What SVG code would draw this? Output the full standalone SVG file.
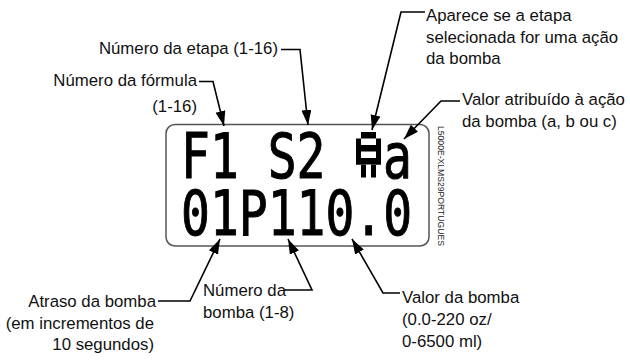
<svg xmlns="http://www.w3.org/2000/svg" width="630" height="360" viewBox="0 0 630 360">
  <defs>
    <marker id="arrow" markerUnits="userSpaceOnUse" markerWidth="16" markerHeight="11" refX="15" refY="5" orient="auto">
      <path d="M0,0 L15,5 L0,10 z" fill="#000"/>
    </marker>
    <style>
      .lbl { font-family: "Liberation Sans", Arial, sans-serif; font-size: 16.8px; fill: #111; }
      .end { text-anchor: end; }
      .lcd { font-family: "DejaVu Sans Mono", "Liberation Mono", monospace; font-weight: normal; font-size: 48px; fill: #000; stroke: #000; stroke-width: 0.8; }
      .conn { fill: none; stroke: #000; stroke-width: 1.6; marker-end: url(#arrow); }
      .id { font-family: "Liberation Sans", Arial, sans-serif; font-size: 8.6px; fill: #222; }
    </style>
  </defs>

  <g id="display">
    <rect x="166" y="124.5" width="263" height="121.5" rx="9" ry="9" fill="#fff" stroke="#555" stroke-width="1.5"/>
    <text class="lcd" transform="translate(181,178) scale(1,1.3)">F1 S2</text>
    <g id="pump-icon" fill="#000">
      <rect x="361" y="132" width="15" height="6.5"/>
      <rect x="356" y="138.5" width="5" height="26"/>
      <rect x="376" y="138.5" width="5" height="26"/>
      <rect x="356" y="145" width="25" height="6.5"/>
      <rect x="356" y="158" width="25" height="6.5"/>
      <rect x="361" y="164.5" width="5" height="13"/>
      <rect x="371" y="164.5" width="5" height="13"/>
    </g>
    <text class="lcd" transform="translate(383,178) scale(1,1.3)">a</text>
    <text class="lcd" transform="translate(181,235) scale(1,1.3)">01P110.0</text>
    <text class="id" transform="translate(438,126) rotate(90)" textLength="120" lengthAdjust="spacingAndGlyphs">L5000E-XLMS29PORTUGUES</text>
  </g>

  <g id="label-formula">
    <text class="lbl end" x="197" y="86">Número da fórmula</text>
    <text class="lbl end" x="197" y="112">(1-16)</text>
  </g>
  <g id="label-etapa">
    <text class="lbl end" x="278" y="54">Número da etapa (1-16)</text>
  </g>
  <g id="label-aparece">
    <text class="lbl" x="426" y="21">Aparece se a etapa</text>
    <text class="lbl" x="426" y="43">selecionada for uma ação</text>
    <text class="lbl" x="426" y="64">da bomba</text>
  </g>
  <g id="label-valor-atribuido">
    <text class="lbl" x="462" y="105">Valor atribuído à ação</text>
    <text class="lbl" x="462" y="127">da bomba (a, b ou c)</text>
  </g>
  <g id="label-atraso">
    <text class="lbl end" x="156" y="307">Atraso da bomba</text>
    <text class="lbl end" x="154" y="328.5">(em incrementos de</text>
    <text class="lbl end" x="154" y="350">10 segundos)</text>
  </g>
  <g id="label-numero-bomba">
    <text class="lbl" x="203" y="296">Número da</text>
    <text class="lbl" x="203" y="318">bomba (1-8)</text>
  </g>
  <g id="label-valor-bomba">
    <text class="lbl" x="402" y="303">Valor da bomba</text>
    <text class="lbl" x="402" y="325">(0.0-220 oz/</text>
    <text class="lbl" x="402" y="347">0-6500 ml)</text>
  </g>

  <g id="connectors">
    <polyline class="conn" points="199,81.5 213,81.5 224,126"/>
    <polyline class="conn" points="281,49.5 300,49.5 308,125"/>
    <polyline class="conn" points="425,12 401,12 372,130"/>
    <polyline class="conn" points="460,101 441,101 404,139"/>
    <polyline class="conn" points="158,301 190,301 220,239"/>
    <polyline class="conn" points="284,290 312,290 288,239"/>
    <polyline class="conn" points="400,293 383,293 352,239"/>
  </g>
</svg>
